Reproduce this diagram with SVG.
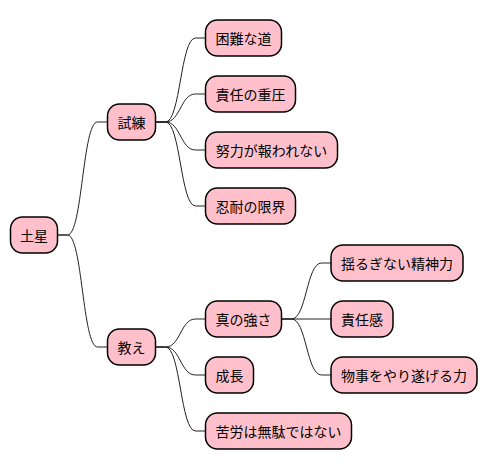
<svg xmlns="http://www.w3.org/2000/svg" width="488" height="471" viewBox="0 0 488 471">
<style>
.n rect{fill:#FFC0CB;stroke:#000;stroke-width:1.5}
.n text{font-family:"Noto Sans CJK JP","Noto Sans",sans-serif;font-size:14px;fill:#000;text-anchor:middle;dominant-baseline:central}
#edges path{fill:none;stroke:#222;stroke-width:1}
</style>
<rect width="488" height="471" fill="#fff"/>
<g id="edges">
<path d="M57.5,235 L67.5,235 C82.5,235 82.5,122 97.5,122 L107.5,122"/>
<path d="M57.5,235 L67.5,235 C82.5,235 82.5,347 97.5,347 L107.5,347"/>
<path d="M155.5,122 L165.5,122 C180.5,122 180.5,38 195.5,38 L205.5,38"/>
<path d="M155.5,122 L165.5,122 C180.5,122 180.5,94 195.5,94 L205.5,94"/>
<path d="M155.5,122 L165.5,122 C180.5,122 180.5,150 195.5,150 L205.5,150"/>
<path d="M155.5,122 L165.5,122 C180.5,122 180.5,206 195.5,206 L205.5,206"/>
<path d="M155.5,347 L165.5,347 C180.5,347 180.5,319 195.5,319 L205.5,319"/>
<path d="M155.5,347 L165.5,347 C180.5,347 180.5,375 195.5,375 L205.5,375"/>
<path d="M155.5,347 L165.5,347 C180.5,347 180.5,431 195.5,431 L205.5,431"/>
<path d="M281.5,319 L291.5,319 C306.5,319 306.5,263 321.5,263 L331,263"/>
<path d="M281.5,319 L331,319"/>
<path d="M281.5,319 L291.5,319 C306.5,319 306.5,375 321.5,375 L331,375"/>
</g>
<g id="n-dosei" class="n"><rect x="10.5" y="217" width="47" height="36" rx="12"/><text x="34" y="235">土星</text></g>
<g id="n-shiren" class="n"><rect x="107.5" y="104" width="48" height="36" rx="12"/><text x="131.5" y="122">試練</text></g>
<g id="n-oshie" class="n"><rect x="107.5" y="329" width="48" height="36" rx="12"/><text x="131.5" y="347">教え</text></g>
<g id="n-konnan" class="n"><rect x="205.5" y="20" width="76" height="36" rx="12"/><text x="243.5" y="38">困難な道</text></g>
<g id="n-juatsu" class="n"><rect x="205.5" y="76" width="90" height="36" rx="12"/><text x="250.5" y="94">責任の重圧</text></g>
<g id="n-doryoku" class="n"><rect x="205.5" y="132" width="132" height="36" rx="12"/><text x="271.5" y="150">努力が報われない</text></g>
<g id="n-nintai" class="n"><rect x="205.5" y="188" width="90" height="36" rx="12"/><text x="250.5" y="206">忍耐の限界</text></g>
<g id="n-tsuyosa" class="n"><rect x="205.5" y="301" width="76" height="36" rx="12"/><text x="243.5" y="319">真の強さ</text></g>
<g id="n-seicho" class="n"><rect x="205.5" y="357" width="48" height="36" rx="12"/><text x="229.5" y="375">成長</text></g>
<g id="n-kuro" class="n"><rect x="205.5" y="413" width="146" height="36" rx="12"/><text x="278.5" y="431">苦労は無駄ではない</text></g>
<g id="n-seishin" class="n"><rect x="331" y="245" width="132" height="36" rx="12"/><text x="397" y="263">揺るぎない精神力</text></g>
<g id="n-sekinin" class="n"><rect x="331" y="301" width="62" height="36" rx="12"/><text x="362" y="319">責任感</text></g>
<g id="n-yaritogeru" class="n"><rect x="331" y="357" width="146" height="36" rx="12"/><text x="404" y="375">物事をやり遂げる力</text></g>
</svg>
